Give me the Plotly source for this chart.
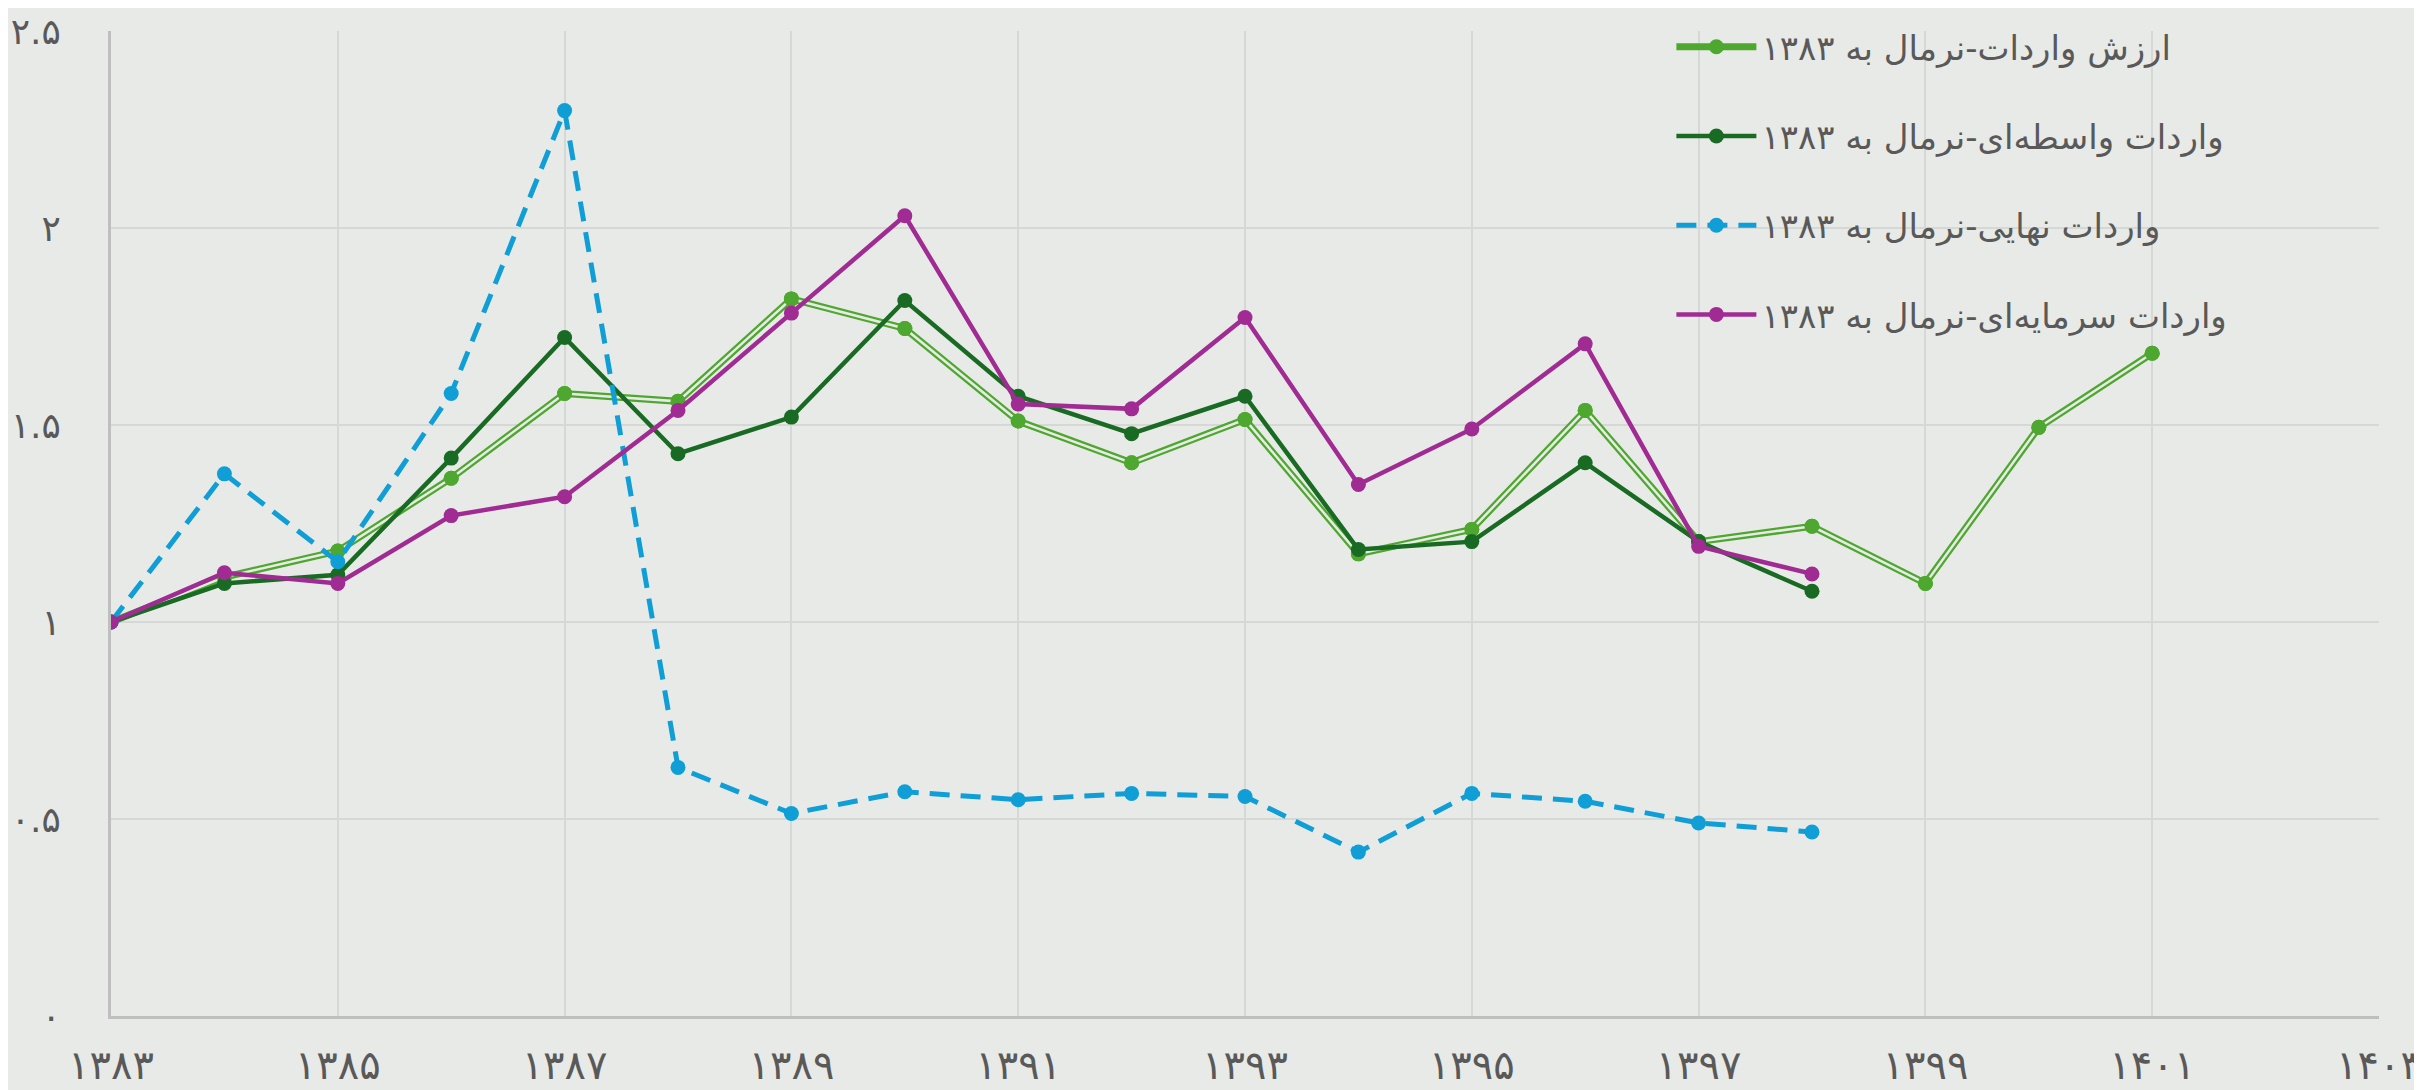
import plotly.graph_objects as go

years = list(range(1383, 1402))
total = [1.0, 1.114, 1.18, 1.365, 1.58, 1.56, 1.82, 1.745, 1.51, 1.404, 1.514, 1.173, 1.235, 1.537, 1.204, 1.243, 1.098, 1.494, 1.682]
years_sub = list(range(1383, 1399))
intermediate = [1.0, 1.098, 1.12, 1.416, 1.722, 1.427, 1.52, 1.816, 1.573, 1.478, 1.573, 1.184, 1.204, 1.404, 1.204, 1.078]
final = [1.0, 1.376, 1.153, 1.58, 2.298, 0.631, 0.514, 0.569, 0.549, 0.565, 0.557, 0.416, 0.565, 0.545, 0.49, 0.467]
capital = [1.0, 1.125, 1.098, 1.27, 1.318, 1.537, 1.784, 2.031, 1.553, 1.541, 1.773, 1.349, 1.49, 1.706, 1.192, 1.122]

names = ["ارزش واردات-نرمال به ۱۳۸۳", "واردات واسطه‌ای-نرمال به ۱۳۸۳",
         "واردات نهایی-نرمال به ۱۳۸۳", "واردات سرمایه‌ای-نرمال به ۱۳۸۳"]

x_tickvals = list(range(1383, 1404, 2))
x_ticktext = ["۱۳۸۳", "۱۳۸۵", "۱۳۸۷", "۱۳۸۹", "۱۳۹۱", "۱۳۹۳", "۱۳۹۵", "۱۳۹۷", "۱۳۹۹", "۱۴۰۱", "۱۴۰۳"]
y_tickvals = [0, 0.5, 1, 1.5, 2, 2.5]
y_ticktext = ["۰", "۰.۵", "۱", "۱.۵", "۲", "۲.۵"]

BG = "#e8eae7"
C_LG = "#4ea72e"
C_DG = "#196b24"
C_BL = "#0f9ed5"
C_PU = "#a02b93"

fig = go.Figure()
# Double line for total
fig.add_trace(go.Scatter(x=years, y=total, mode="lines+markers", name=names[0],
                         line=dict(color=C_LG, width=7), marker=dict(size=15, color=C_LG),
                         legendgroup="g1"))
fig.add_trace(go.Scatter(x=years, y=total, mode="lines", showlegend=False,
                         line=dict(color=BG, width=2.5), hoverinfo="skip", legendgroup="g1"))
fig.add_trace(go.Scatter(x=years, y=total, mode="markers", showlegend=False,
                         marker=dict(size=15, color=C_LG), legendgroup="g1"))
fig.add_trace(go.Scatter(x=years_sub, y=intermediate, mode="lines+markers", name=names[1],
                         line=dict(color=C_DG, width=4.5), marker=dict(size=15, color=C_DG),
                         legendgroup="g2"))
fig.add_trace(go.Scatter(x=years_sub, y=final, mode="lines+markers", name=names[2],
                         line=dict(color=C_BL, width=5, dash="20px,11px"), marker=dict(size=15, color=C_BL),
                         legendgroup="g3"))
fig.add_trace(go.Scatter(x=years_sub, y=capital, mode="lines+markers", name=names[3],
                         line=dict(color=C_PU, width=4.5), marker=dict(size=15, color=C_PU),
                         legendgroup="g4"))

fig.update_layout(
    width=2414, height=1082,
    paper_bgcolor=BG, plot_bgcolor=BG,
    margin=dict(l=103, r=43, t=23, b=74, autoexpand=False),
    font=dict(family="DejaVu Sans", color="#595959", size=30),
    showlegend=True,
    legend=dict(x=0.688, y=1.013, xanchor="left", yanchor="top",
                bgcolor="rgba(0,0,0,0)", font=dict(size=34, color="#595959"),
                itemwidth=80, tracegroupgap=42, traceorder="grouped"),
)
fig.update_xaxes(range=[1383, 1403], tickvals=x_tickvals, ticktext=x_ticktext,
                 showgrid=True, gridcolor="#d6d8d5", gridwidth=2,
                 showline=True, linecolor="#bfbfbf", linewidth=3,
                 zeroline=False, ticks="", ticklabelstandoff=12, automargin=False,
                 ticklabeloverflow="allow",
                 tickfont=dict(size=40, color="#595959"))
fig.update_yaxes(range=[0, 2.5], tickvals=y_tickvals, ticktext=y_ticktext,
                 showgrid=True, gridcolor="#d6d8d5", gridwidth=2,
                 showline=True, linecolor="#bfbfbf", linewidth=3,
                 zeroline=False, ticks="", ticklabelstandoff=40, automargin=False,
                 ticklabeloverflow="allow",
                 tickfont=dict(size=36, color="#595959"))

fig.write_html("out.html")
